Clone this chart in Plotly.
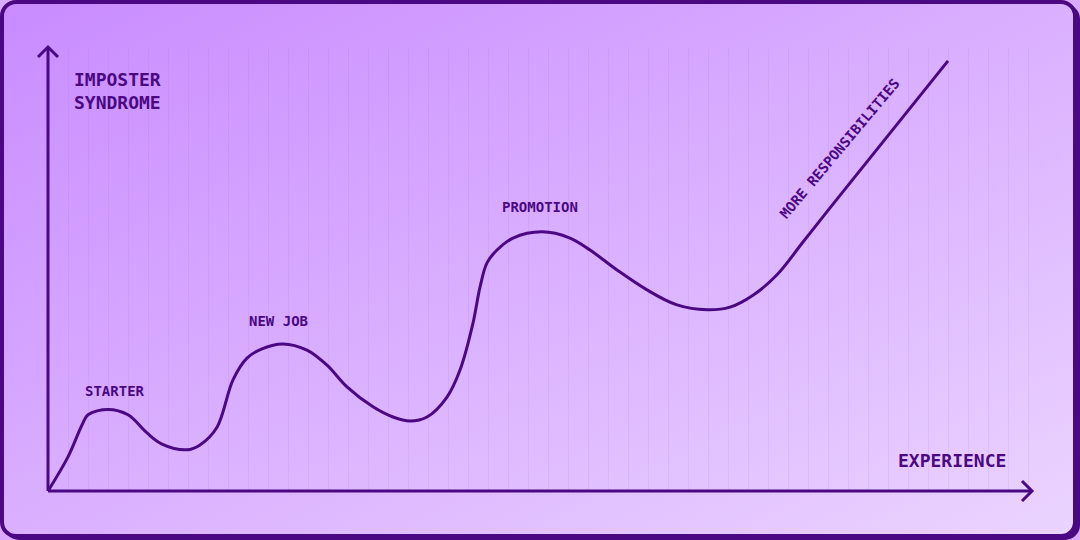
import base64
import plotly.graph_objects as go

# ---- data (x in grid-cell units of experience, y in 0-100 imposter-syndrome scale)
experience = [0, 1.0, 1.7, 2.0, 3.0, 4.0, 4.95, 5.7, 6.95, 7.6, 8.45, 9.25, 9.95, 10.7,
              11.75, 12.95, 13.95, 14.95, 16.25, 17.25, 18.1, 18.95, 19.95, 20.6, 21.25,
              21.6, 21.95, 22.45, 23.25, 24.7, 26.1, 27.1, 28.45, 29.95, 31.45, 32.95,
              34.1, 35.25, 36.45, 37.75, 39.1, 45.0]
imposter = [0, 7.7, 14.9, 17.2, 18.4, 17.2, 13.1, 10.6, 9.3, 10.4, 14.4, 25.1, 30.0, 32.1,
            33.2, 31.8, 28.4, 23.5, 19.0, 16.7, 15.8, 16.7, 21.2, 27.3, 37.9,
            46.0, 51.5, 54.4, 57.1, 58.5, 57.1, 54.4, 49.9, 45.4, 42.0, 40.9,
            41.5, 44.2, 48.8, 56.2, 63.9, 97.1]

stage_labels = ["STARTER", "NEW JOB", "PROMOTION"]
stage_x = [3.33, 11.5, 24.6]
stage_y = [22.6, 38.4, 64.1]

trend_label = "MORE RESPONSIBILITIES"
trend_x, trend_y, trend_angle = 39.55, 77.3, -50

y_title = "IMPOSTER<br>SYNDROME"
x_title = "EXPERIENCE"

INK = "#4a0883"
FONT = "DejaVu Sans Mono"

# ---- background (gradient card with offset border)
svg = f'''<svg xmlns="http://www.w3.org/2000/svg" width="1080" height="540" viewBox="0 0 1080 540" preserveAspectRatio="none">
<defs><linearGradient id="g" x1="0" y1="0" x2="1" y2="1">
<stop offset="0" stop-color="#c98bff"/><stop offset="1" stop-color="#ebd4ff"/></linearGradient></defs>
<rect x="4" y="4" width="1076" height="536" rx="15" fill="{INK}"/>
<rect x="2" y="2" width="1073" height="534" rx="14" fill="url(#g)" stroke="{INK}" stroke-width="4"/>
</svg>'''
bg_src = "data:image/svg+xml;base64," + base64.b64encode(svg.encode()).decode()

W, H = 1080, 540
ML, MR, MT, MB = 48, 48, 48, 49
PW, PH = W - ML - MR, H - MT - MB

fig = go.Figure()
fig.add_trace(go.Scatter(
    x=experience, y=imposter, mode="lines",
    line=dict(color=INK, width=3, shape="spline", smoothing=1.0),
    hoverinfo="skip", showlegend=False,
))

annotations = []
for t, x, y in zip(stage_labels, stage_x, stage_y):
    annotations.append(dict(x=x, y=y, text=t, showarrow=False, xanchor="center", yanchor="middle",
                            font=dict(family=FONT, size=14, color=INK, weight="bold")))
annotations.append(dict(x=trend_x, y=trend_y, text=trend_label, showarrow=False, textangle=trend_angle,
                        xanchor="center", yanchor="middle",
                        font=dict(family=FONT, size=14, color=INK, weight="bold")))
annotations.append(dict(x=1.2, y=90.3, text=y_title, showarrow=False, xanchor="left", yanchor="middle",
                        align="left", font=dict(family=FONT, size=18, color=INK, weight="bold")))
annotations.append(dict(x=45.2, y=6.8, text=x_title, showarrow=False, xanchor="center", yanchor="middle",
                        font=dict(family=FONT, size=18, color=INK, weight="bold")))

axis_line = dict(color=INK, width=3)
shapes = [
    dict(type="line", xref="paper", yref="paper", x0=0, y0=0, x1=0, y1=1 + 1 / PH, line=axis_line, layer="above"),
    dict(type="line", xref="paper", yref="paper", x0=0, y0=0, x1=1, y1=0, line=axis_line, layer="above"),
    dict(type="path", xref="paper", yref="paper", xsizemode="pixel", ysizemode="pixel",
         xanchor=0, yanchor=1 + 1 / PH, path="M-10,-10 L0,0 L10,-10", line=axis_line, layer="above"),
    dict(type="path", xref="paper", yref="paper", xsizemode="pixel", ysizemode="pixel",
         xanchor=1, yanchor=0, path="M-10,10 L0,0 L-10,-10", line=axis_line, layer="above"),
]

fig.update_layout(
    width=W, height=H,
    margin=dict(l=ML, r=MR, t=MT, b=MB),
    paper_bgcolor="#d9aaff",
    plot_bgcolor="rgba(0,0,0,0)",
    xaxis=dict(range=[0, PW / 20], showgrid=True, dtick=1, tick0=0,
               gridcolor="rgba(160,80,225,0.10)", gridwidth=1,
               showticklabels=False, zeroline=False, showline=False, fixedrange=True),
    yaxis=dict(range=[0, 100], showgrid=False, showticklabels=False, zeroline=False,
               showline=False, fixedrange=True),
    images=[dict(source=bg_src, xref="paper", yref="paper",
                 x=-ML / PW, y=1 + MT / PH, sizex=W / PW, sizey=H / PH,
                 xanchor="left", yanchor="top", sizing="stretch", layer="below")],
    annotations=annotations,
    shapes=shapes,
)

fig.write_html("out.html", config={"displayModeBar": False, "staticPlot": True},
               post_script="document.body.style.margin='0';document.body.style.padding='0';")
